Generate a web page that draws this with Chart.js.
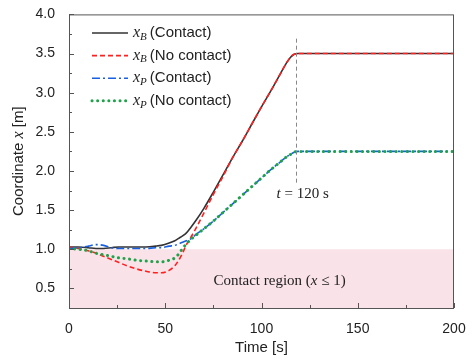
<!DOCTYPE html>
<html>
<head>
<meta charset="utf-8">
<script src="https://cdn.jsdelivr.net/npm/chart.js@4/dist/chart.umd.min.js"></script>
<style>
  html, body { margin: 0; padding: 0; background: #fff; }
  #wrap { width: 474px; height: 362px; }
</style>
</head>
<body>
<div id="wrap"><canvas id="js--chart"></canvas></div>
<script>
// time grid [s]
const times = [0, 5, 10, 14, 18, 22, 26, 30, 35, 40, 45, 48, 52, 55, 57, 59, 61, 63, 66, 70,
    75, 80, 85, 90, 95, 100, 105, 110, 113, 115, 117, 119, 125, 140, 160, 180, 200];

// coordinate x [m]
const xBContact = [1.03, 1.03, 1.02, 1.01, 1.01, 1.02, 1.03, 1.03, 1.03, 1.03, 1.04, 1.05, 1.08, 1.11, 1.14, 1.17, 1.21, 1.27, 1.37, 1.52,
    1.73, 1.95, 2.17, 2.38, 2.60, 2.82, 3.03, 3.25, 3.38, 3.45, 3.49, 3.50, 3.50, 3.50, 3.50, 3.50, 3.50];
const xBNoContact = [1.03, 1.01, 0.98, 0.95, 0.91, 0.87, 0.83, 0.79, 0.75, 0.72, 0.70, 0.70, 0.73, 0.79, 0.86, 0.95, 1.06, 1.14, 1.27, 1.46,
    1.70, 1.93, 2.17, 2.38, 2.60, 2.82, 3.03, 3.25, 3.38, 3.45, 3.49, 3.50, 3.50, 3.50, 3.50, 3.50, 3.50];
const xPContact = [1.01, 1.02, 1.04, 1.06, 1.05, 1.02, 1.01, 1.01, 1.01, 1.01, 1.02, 1.02, 1.04, 1.05, 1.07, 1.09, 1.11, 1.13, 1.19, 1.26,
    1.36, 1.47, 1.58, 1.69, 1.80, 1.91, 2.02, 2.12, 2.18, 2.21, 2.24, 2.25, 2.25, 2.25, 2.25, 2.25, 2.25];
const xPNoContact = [1.01, 1.00, 0.98, 0.95, 0.93, 0.91, 0.89, 0.88, 0.86, 0.85, 0.84, 0.84, 0.86, 0.89, 0.94, 1.01, 1.07, 1.12, 1.18, 1.26,
    1.36, 1.47, 1.58, 1.69, 1.80, 1.91, 2.02, 2.12, 2.18, 2.21, 2.24, 2.25, 2.25, 2.25, 2.25, 2.25, 2.25];

// contact region x <= 1
const contactLimit = 1.0;
const tMark = 118;

const xTickLabels = [0, 50, 100, 150, 200];
const yTickLabels = [0.5, 1.0, 1.5, 2.0, 2.5, 3.0, 3.5, 4.0];

const legendItems = [
    { sub: "B", text: "(Contact)", color: "#333333", width: 1.6, dash: [] },
    { sub: "B", text: "(No contact)", color: "#ff2020", width: 1.6, dash: [5, 3] },
    { sub: "P", text: "(Contact)", color: "#1a5fe0", width: 1.6, dash: [8, 3, 2, 3] },
    { sub: "P", text: "(No contact)", color: "#1fa34a", width: 3, dash: [0.1, 5.5] }
];

function pts(vals) {
    return vals.map((v, i) => ({ x: times[i], y: v }));
}

function series(vals, item, order) {
    return {
        data: pts(vals),
        order: order,
        borderColor: item.color,
        borderWidth: item.width,
        borderDash: item.dash,
        borderCapStyle: item.width > 2 ? "round" : "butt",
        pointRadius: 0,
        cubicInterpolationMode: "monotone",
        fill: false
    };
}

const SANS = "'Liberation Sans', Arial, sans-serif";
const SERIF = "'Liberation Serif', 'Times New Roman', serif";

// x with italic subscript, then sans text
function drawXSub(ctx, x, y, sub, rest, size) {
    ctx.textBaseline = "middle";
    ctx.textAlign = "left";
    ctx.font = "italic " + (size + 1) + "px " + SERIF;
    ctx.fillText("x", x, y);
    let w = ctx.measureText("x").width;
    ctx.font = "italic " + (size - 4) + "px " + SERIF;
    ctx.fillText(sub, x + w, y + 4);
    w += ctx.measureText(sub).width + 3;
    ctx.font = size + "px " + SANS;
    ctx.fillText(rest, x + w, y);
}

const decorations = {
    id: "decorations",
    afterDraw(chart) {
        const ctx = chart.ctx;
        const a = chart.chartArea;
        const xs = chart.scales.x;
        const ys = chart.scales.y;
        ctx.save();

        // frame
        ctx.strokeStyle = "#555";
        ctx.lineWidth = 1;
        ctx.setLineDash([]);
        ctx.strokeRect(a.left + 0.5, a.top + 0.5, a.right - a.left - 1, a.bottom - a.top);

        // inward ticks
        ctx.beginPath();
        for (let t = 0; t <= 200; t += 25) {
            const px = Math.round(xs.getPixelForValue(t)) + 0.5;
            const len = t % 50 === 0 ? 5 : 3;
            ctx.moveTo(px, a.bottom);
            ctx.lineTo(px, a.bottom - len);
        }
        for (let v = 0.25; v <= 4.0001; v += 0.25) {
            const py = Math.round(ys.getPixelForValue(v)) + 0.5;
            const len = Math.abs(v * 2 - Math.round(v * 2)) < 0.01 ? 5 : 3;
            ctx.moveTo(a.left, py);
            ctx.lineTo(a.left + len, py);
        }
        ctx.stroke();

        // t = 120 s marker
        const mx = Math.round(xs.getPixelForValue(tMark)) + 0.5;
        ctx.strokeStyle = "#888";
        ctx.setLineDash([4, 3]);
        ctx.beginPath();
        ctx.moveTo(mx, ys.getPixelForValue(3.69));
        ctx.lineTo(mx, ys.getPixelForValue(1.84));
        ctx.stroke();
        ctx.setLineDash([]);

        ctx.fillStyle = "#222";
        ctx.textBaseline = "middle";
        ctx.textAlign = "left";
        ctx.font = "italic 15px " + SERIF;
        let tx = mx - 20;
        const ty = ys.getPixelForValue(1.7);
        ctx.fillText("t", tx, ty);
        tx += ctx.measureText("t ").width;
        ctx.font = "15px " + SERIF;
        ctx.fillText("= 120 s", tx, ty);

        // contact region label
        const cy = ys.getPixelForValue(0.6);
        let cx = xs.getPixelForValue(75);
        ctx.font = "15px " + SERIF;
        ctx.fillText("Contact region (", cx, cy);
        cx += ctx.measureText("Contact region (").width;
        ctx.font = "italic 15px " + SERIF;
        ctx.fillText("x", cx, cy);
        cx += ctx.measureText("x").width;
        ctx.font = "15px " + SERIF;
        ctx.fillText(" \u2264 1)", cx, cy);

        // legend
        legendItems.forEach((it, i) => {
            const ly = 33 + i * 22.6;
            ctx.strokeStyle = it.color;
            ctx.lineWidth = it.width;
            ctx.setLineDash(it.dash);
            ctx.lineCap = it.width > 2 ? "round" : "butt";
            ctx.beginPath();
            ctx.moveTo(92, ly);
            ctx.lineTo(128, ly);
            ctx.stroke();
            ctx.setLineDash([]);
            ctx.fillStyle = "#222";
            drawXSub(ctx, 133, ly, it.sub, it.text, 15);
        });

        // axis titles
        ctx.fillStyle = "#222";
        ctx.font = "15px " + SANS;
        ctx.textAlign = "center";
        ctx.fillText("Time [s]", (a.left + a.right) / 2, 348);

        ctx.translate(19, (a.top + a.bottom) / 2);
        ctx.rotate(-Math.PI / 2);
        const p1 = "Coordinate ";
        const p3 = " [m]";
        ctx.font = "15px " + SANS;
        const w1 = ctx.measureText(p1).width;
        const w3 = ctx.measureText(p3).width;
        ctx.font = "italic 16px " + SERIF;
        const w2 = ctx.measureText("x").width;
        let sx = -(w1 + w2 + w3) / 2;
        ctx.textAlign = "left";
        ctx.font = "15px " + SANS;
        ctx.fillText(p1, sx, 0);
        ctx.font = "italic 16px " + SERIF;
        ctx.fillText("x", sx + w1, 0);
        ctx.font = "15px " + SANS;
        ctx.fillText(p3, sx + w1 + w2, 0);
        ctx.restore();
    }
};

const config = {
    type: "line",
    data: {
        datasets: [
            series(xBContact, legendItems[0], 4),
            series(xBNoContact, legendItems[1], 3),
            series(xPContact, legendItems[2], 2),
            series(xPNoContact, legendItems[3], 1),
            {
                data: [{ x: 0, y: contactLimit }, { x: 200, y: contactLimit }],
                order: 10,
                borderWidth: 0,
                pointRadius: 0,
                backgroundColor: "rgb(250, 226, 233)",
                fill: "start"
            }
        ]
    },
    options: {
        responsive: true,
        maintainAspectRatio: false,
        animation: false,
        layout: { padding: { left: 0, top: 14, right: 20, bottom: 0 } },
        plugins: {
            legend: { display: false },
            tooltip: { enabled: false }
        },
        scales: {
            x: {
                type: "linear",
                min: 0,
                max: 200,
                grid: { display: false },
                border: { display: false },
                afterBuildTicks: s => { s.ticks = xTickLabels.map(v => ({ value: v })); },
                afterFit: s => { s.height = 54; },
                ticks: {
                    color: "#222",
                    padding: 5,
                    maxRotation: 0,
                    font: { family: SANS, size: 14 }
                }
            },
            y: {
                min: 0.25,
                max: 4.0,
                grid: { display: false },
                border: { display: false },
                afterBuildTicks: s => { s.ticks = yTickLabels.map(v => ({ value: v })); },
                afterFit: s => { s.width = 69; },
                ticks: {
                    color: "#222",
                    padding: 6,
                    font: { family: SANS, size: 14 },
                    callback: v => Number(v).toFixed(1)
                }
            }
        }
    },
    plugins: [decorations]
};

new Chart(document.getElementById("js--chart"), config);
</script>
</body>
</html>
